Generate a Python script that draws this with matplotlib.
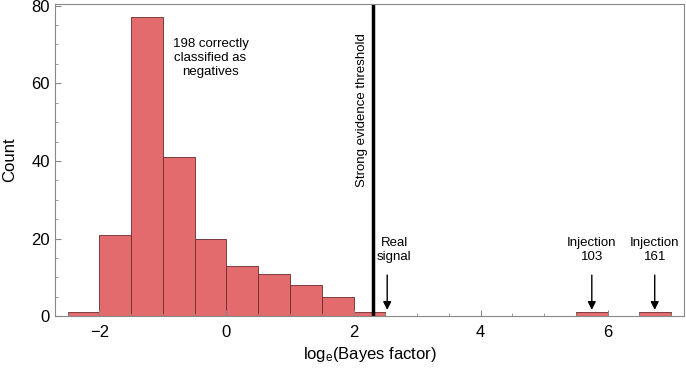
import numpy as np
import matplotlib.pyplot as plt
from matplotlib.ticker import MultipleLocator

plt.rcParams['font.family'] = ['Liberation Sans', 'DejaVu Sans']
plt.rcParams['mathtext.fontset'] = 'custom'
plt.rcParams['mathtext.rm'] = 'Liberation Sans'
plt.rcParams['mathtext.it'] = 'Liberation Sans'

# histogram bins (width 0.5) and counts
bin_edges = [-2.5, -2.0, -1.5, -1.0, -0.5, 0.0, 0.5, 1.0, 1.5, 2.0, 2.5,
             3.0, 3.5, 4.0, 4.5, 5.0, 5.5, 6.0, 6.5, 7.0]
counts = [1, 21, 77, 41, 20, 13, 11, 8, 5, 1,
          0, 0, 0, 0, 0, 0, 1, 0, 1]
threshold = np.log(10)

labels = ['Real\nsignal', 'Injection\n103', 'Injection\n161']
arrow_x = [2.53, 5.75, 6.74]
label_x = [2.64, 5.75, 6.74]

fig = plt.figure(figsize=(6.86, 3.72), dpi=100)
ax = fig.add_axes([0.080, 0.150, 0.917, 0.840])

edges = np.array(bin_edges)
ax.bar(edges[:-1], counts, width=np.diff(edges), align='edge',
       color='#e36b6e', edgecolor='#6b2a2b', linewidth=0.6)

ax.axvline(threshold, color='black', linewidth=2.5)
ax.text(threshold - 0.17, 53, 'Strong evidence threshold', rotation=90,
        ha='center', va='center', fontsize=9.5)
ax.text(-0.25, 66.5, '198 correctly\nclassified as\nnegatives',
        ha='center', va='center', fontsize=9.5, linespacing=1.2)

for lab, xa, xt in zip(labels, arrow_x, label_x):
    ax.annotate('', xy=(xa, 0.9), xytext=(xa, 11.3),
                arrowprops=dict(arrowstyle='-|>', color='black', lw=1.0,
                                mutation_scale=12))
    ax.text(xt, 17, lab, ha='center', va='center', fontsize=9.5,
            linespacing=1.2)

ax.set_xlim(-2.7, 7.2)
ax.set_ylim(0, 80.5)
ax.set_xticks([-2, 0, 2, 4, 6])
ax.set_yticks([0, 20, 40, 60, 80])
ax.xaxis.set_minor_locator(MultipleLocator(0.5))
ax.yaxis.set_minor_locator(MultipleLocator(5))
ax.set_xticklabels(['\u22122', '0', '2', '4', '6'])
ax.tick_params(direction='in', which='both', labelsize=12, color='#888888')
ax.tick_params(which='major', length=4)
ax.tick_params(which='minor', length=2)
ax.tick_params(axis='x', pad=6)
for s in ax.spines.values():
    s.set_color('#888888')

ax.set_xlabel(r'log$_\mathrm{e}$(Bayes factor)', fontsize=12)
ax.set_ylabel('Count', fontsize=12, labelpad=10)

fig.savefig('out.png', dpi=100)
